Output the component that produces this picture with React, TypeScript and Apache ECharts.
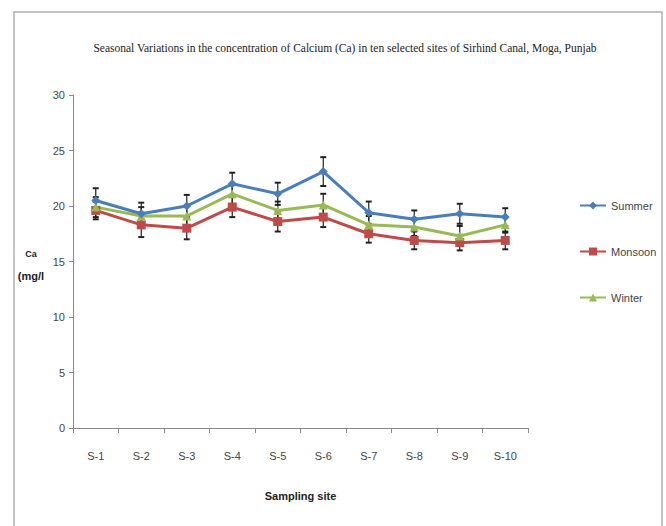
import React, { useEffect, useRef } from "react";
import * as echarts from "echarts";

const categories = ["S-1", "S-2", "S-3", "S-4", "S-5", "S-6", "S-7", "S-8", "S-9", "S-10"];
const summer = [20.5, 19.3, 20.0, 22.0, 21.1, 23.1, 19.4, 18.8, 19.3, 19.0];
const monsoon = [19.6, 18.3, 18.0, 19.9, 18.6, 19.0, 17.5, 16.9, 16.7, 16.9];
const winter = [19.9, 19.1, 19.1, 21.1, 19.6, 20.1, 18.3, 18.1, 17.3, 18.3];
const summerErr = [1.1, 1.0, 1.0, 1.0, 1.0, 1.3, 1.0, 0.8, 0.9, 0.8];
const monsoonErr = [0.8, 1.1, 1.0, 0.9, 0.9, 0.9, 0.8, 0.8, 0.7, 0.8];
const winterErr = [0.9, 0.8, 0.9, 0.9, 0.8, 1.0, 0.8, 0.8, 0.9, 0.7];
const yTicks = { min: 0, max: 30, interval: 5 };

const errData = (vals: number[], errs: number[]) =>
  vals.map((v, i) => [i, v - errs[i], v + errs[i]]);

const errorSeries = (name: string, vals: number[], errs: number[]) => ({
  type: "custom",
  name: name + "-err",
  z: 1,
  silent: true,
  data: errData(vals, errs),
  renderItem: (params: any, api: any) => {
    const x = api.value(0);
    const lo = api.coord([x, api.value(1)]);
    const hi = api.coord([x, api.value(2)]);
    const w = 3;
    const st = { stroke: "#222", lineWidth: 1.2 };
    return {
      type: "group",
      children: [
        { type: "line", shape: { x1: lo[0], y1: lo[1], x2: hi[0], y2: hi[1] }, style: st },
        { type: "line", shape: { x1: lo[0] - w, y1: lo[1], x2: lo[0] + w, y2: lo[1] }, style: { stroke: "#222", lineWidth: 2 } },
        { type: "line", shape: { x1: hi[0] - w, y1: hi[1], x2: hi[0] + w, y2: hi[1] }, style: { stroke: "#222", lineWidth: 2 } },
      ],
    };
  },
});

export default function App() {
  const ref = useRef<HTMLDivElement>(null);
  useEffect(() => {
    if (!ref.current) return;
    const chart = echarts.init(ref.current, undefined, { renderer: "svg" });
    const lineFont = "Liberation Sans";
    chart.setOption({
      animation: false,
      backgroundColor: "#fff",
      grid: { left: 73, right: 138, top: 95, bottom: 98 },
      graphic: [
        {
          type: "rect",
          shape: { x: 14, y: 12, width: 648, height: 530 },
          style: { fill: "none", stroke: "#b0b0b0", lineWidth: 1.5 },
          silent: true,
        },
        {
          type: "text",
          x: 345,
          y: 48,
          style: {
            text: "Seasonal Variations in the concentration of Calcium (Ca) in ten selected sites of Sirhind Canal, Moga, Punjab",
            font: "11.5px 'Liberation Serif'",
            fill: "#222",
            textAlign: "center",
            textVerticalAlign: "middle",
          },
        },
        {
          type: "text",
          x: 31,
          y: 254,
          style: { text: "Ca", font: "bold 9px 'Liberation Sans'", fill: "#222", textAlign: "center", textVerticalAlign: "middle" },
        },
        {
          type: "text",
          x: 31,
          y: 276,
          style: { text: "(mg/l", font: "bold 11px 'Liberation Sans Narrow', 'Liberation Sans'", fill: "#222", textAlign: "center", textVerticalAlign: "middle" },
        },
      ],
      legend: {
        orient: "vertical",
        left: 574,
        top: 195,
        itemGap: 35,
        itemWidth: 26,
        itemHeight: 10,
        data: ["Summer", "Monsoon", "Winter"],
        textStyle: { fontSize: 11, color: "#444", fontFamily: lineFont },
      },
      xAxis: {
        type: "category",
        data: categories,
        boundaryGap: true,
        axisLine: { lineStyle: { color: "#888" } },
        axisTick: { show: true, length: 5, lineStyle: { color: "#888" } },
        axisLabel: { color: "#444", fontSize: 11, margin: 22, fontFamily: lineFont },
        name: "Sampling site",
        nameLocation: "middle",
        nameGap: 62,
        nameTextStyle: { fontWeight: "bold", fontSize: 11, color: "#222", fontFamily: lineFont },
      },
      yAxis: {
        type: "value",
        min: yTicks.min,
        max: yTicks.max,
        interval: yTicks.interval,
        axisLine: { show: true, lineStyle: { color: "#888" } },
        axisTick: { show: true, length: 4, lineStyle: { color: "#888" } },
        splitLine: { show: false },
        axisLabel: { color: "#444", fontSize: 11, margin: 8, fontFamily: lineFont },
      },
      series: [
        errorSeries("Summer", summer, summerErr),
        errorSeries("Monsoon", monsoon, monsoonErr),
        errorSeries("Winter", winter, winterErr),
        {
          name: "Summer",
          type: "line",
          z: 4,
          data: summer,
          symbol: "diamond",
          symbolSize: 9,
          color: "#4a7ebb",
          lineStyle: { width: 3, color: "#4a7ebb" },
          itemStyle: { color: "#4a7ebb" },
        },
        {
          name: "Monsoon",
          type: "line",
          z: 3,
          data: monsoon,
          symbol: "rect",
          symbolSize: 9,
          color: "#be4b48",
          lineStyle: { width: 3, color: "#be4b48" },
          itemStyle: { color: "#be4b48" },
        },
        {
          name: "Winter",
          type: "line",
          z: 3,
          data: winter,
          symbol: "triangle",
          symbolSize: 9,
          color: "#98b954",
          lineStyle: { width: 3, color: "#98b954" },
          itemStyle: { color: "#98b954" },
        },
      ],
    });
    return () => chart.dispose();
  }, []);
  return (
    <div
      ref={ref}
      style={{ position: "fixed", left: 0, top: 0, width: 666, height: 526 }}
    />
  );
}
